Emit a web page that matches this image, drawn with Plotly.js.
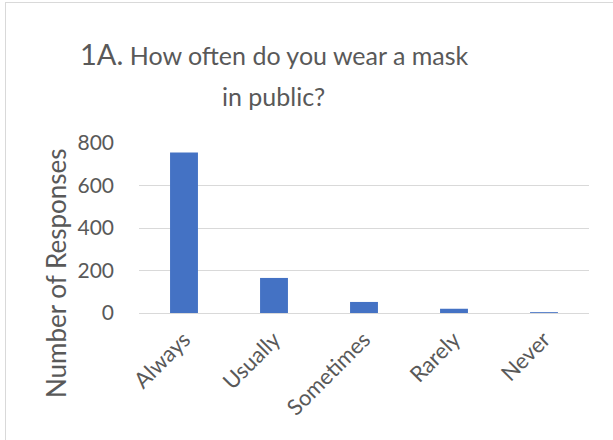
<!DOCTYPE html>
<html>
<head>
<meta charset="utf-8">
<script src="https://cdn.plot.ly/plotly-3.0.1.min.js"></script>
<style>
  html, body { margin: 0; padding: 0; background: #fff; }
  #wrap { position: relative; width: 613px; height: 440px; overflow: hidden; }
  #frame { position: absolute; left: 5px; top: 2px; width: 640px; height: 470px; border: 1px solid #d9d9d9; box-sizing: border-box; }
  #chart { position: absolute; left: 0; top: 0; width: 613px; height: 440px; }
</style>
</head>
<body>
<div id="wrap">
  <div id="frame"></div>
  <div id="chart"></div>
</div>
<script>
const categories = ["Always", "Usually", "Sometimes", "Rarely", "Never"];
const responses = [755, 165, 52, 20, 4];
const yTicks = [0, 200, 400, 600, 800];
const titlePrefix = "1A.";
const titleLine1 = "How often do you wear a mask";
const titleLine2 = "in public?";
const yAxisTitle = "Number of Responses";

const FONT = "Lato, 'Open Sans', sans-serif";
const GRAY = "#595959";

const trace = {
  type: "bar",
  x: categories,
  y: responses,
  marker: { color: "#4472C4" },
  hoverinfo: "x+y"
};

const L = 139, R = 589, T = 143, B = 313;
const W = 613, H = 440;
function px2x(px) { return (px - L) / (R - L); }
function py2y(py) { return (B - py) / (B - T); }

const layout = {
  width: W, height: H,
  margin: { l: L, r: W - R, t: T, b: H - B, pad: 0 },
  paper_bgcolor: "rgba(0,0,0,0)",
  plot_bgcolor: "rgba(0,0,0,0)",
  font: { family: FONT, color: GRAY },
  showlegend: false,
  bargap: 0.69,
  xaxis: {
    type: "category",
    showline: true, linecolor: "#d9d9d9", linewidth: 1,
    showgrid: false, ticks: "",
    tickangle: -45,
    ticklabelstandoff: 4,
    tickfont: { family: FONT, size: 22, color: GRAY },
    automargin: false
  },
  yaxis: {
    range: [0, 800],
    tickvals: yTicks,
    showgrid: true, gridcolor: "#d9d9d9", gridwidth: 1,
    zeroline: false, showline: false, ticks: "",
    ticklen: 0,
    ticklabelstandoff: 24,
    tickfont: { family: FONT, size: 21, color: GRAY },
    automargin: false
  },
  annotations: [
    {
      xref: "paper", yref: "paper",
      x: px2x(274), y: py2y(53),
      xanchor: "center", yanchor: "middle",
      showarrow: false,
      text: '<span style="font-size:29px">' + titlePrefix + '</span> ' + titleLine1,
      font: { family: FONT, size: 25, color: GRAY }
    },
    {
      xref: "paper", yref: "paper",
      x: px2x(273), y: py2y(96),
      xanchor: "center", yanchor: "middle",
      showarrow: false,
      text: titleLine2,
      font: { family: FONT, size: 25, color: GRAY }
    },
    {
      xref: "paper", yref: "paper",
      x: px2x(56), y: py2y(273),
      xanchor: "center", yanchor: "middle",
      showarrow: false,
      textangle: -90,
      text: yAxisTitle,
      font: { family: FONT, size: 26, color: GRAY }
    }
  ]
};

Plotly.newPlot("chart", [trace], layout, { displayModeBar: false, staticPlot: true });
</script>
</body>
</html>
